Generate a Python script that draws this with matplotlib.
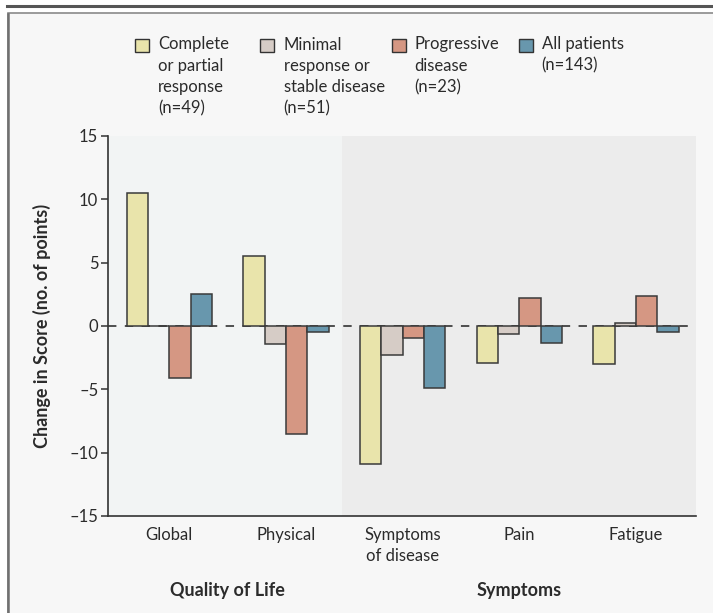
import matplotlib
matplotlib.use('Agg')
import matplotlib.pyplot as plt
from matplotlib.patches import Rectangle
from matplotlib.lines import Line2D
import numpy as np

plt.rcParams['font.family'] = ['Lato', 'DejaVu Sans']

# data
categories = ['Global', 'Physical', 'Symptoms\nof disease', 'Pain', 'Fatigue']
groups = ['Quality of Life', 'Symptoms']
series_names = ['Complete\nor partial\nresponse\n(n=49)',
                'Minimal\nresponse or\nstable disease\n(n=51)',
                'Progressive\ndisease\n(n=23)',
                'All patients\n(n=143)']
complete = [10.5, 5.5, -10.9, -2.9, -3.0]
minimal = [0.0, -1.4, -2.3, -0.6, 0.25]
progressive = [-4.1, -8.5, -0.95, 2.2, 2.4]
all_patients = [2.5, -0.45, -4.9, -1.35, -0.5]
yticks = [-15, -10, -5, 0, 5, 10, 15]
ytick_labels = ['–15', '–10', '–5', '0', '5', '10', '15']

colors = ['#e9e4ab', '#d6ccc6', '#d59783', '#6897ad']
edge = '#3a3a3a'
txt = '#2b2b2b'

W, H = 713, 613
def fx(x):
    return x / W
def fy(y):
    return 1 - y / H

fig = plt.figure(figsize=(W / 100, H / 100), dpi=100)
fig.patch.set_facecolor('white')

# panel frame
fig.patches.append(Rectangle((fx(7.5), -0.05), 1.1, fy(13.5) + 0.05,
                             transform=fig.transFigure, fc='#f7f7f7',
                             ec='#8a8a8a', lw=1.2, zorder=-10))
fig.lines.append(Line2D([fx(7.5), fx(7.5)], [0, fy(13.5)], color='#707070',
                        lw=1.8, transform=fig.transFigure, zorder=-9))
fig.lines.append(Line2D([fx(7), 1], [fy(6), fy(6)], color='#555555',
                        lw=2.2, transform=fig.transFigure, zorder=-9))

ax = fig.add_axes([fx(108), fy(516), (696 - 108) / W, (516 - 136) / H])
ax.set_facecolor('#f2f4f4')
ax.set_xlim(-0.525, 4.515)
ax.set_ylim(-15, 15)
ax.axvspan(1.481, 4.515, color='#ececec', lw=0, zorder=0)

x = np.arange(len(categories))
w = 0.183
for i, vals in enumerate([complete, minimal, progressive, all_patients]):
    ax.bar(x + (i - 1.5) * w, vals, w, color=colors[i], edgecolor=edge,
           lw=1.1, zorder=3)

ax.axhline(0, color='#222222', lw=1.1, dashes=(5.5, 5.5), zorder=2)

ax.set_yticks(yticks, ytick_labels)
ax.set_xticks(x, categories)
ax.tick_params(axis='y', length=5, width=1.1, color='#333333', labelsize=12,
               pad=2, labelcolor=txt)
ax.tick_params(axis='x', length=0, pad=8, labelsize=12, labelcolor=txt)
for lbl in ax.get_xticklabels():
    lbl.set_linespacing(1.35)

for s in ['top', 'right']:
    ax.spines[s].set_visible(False)
for s in ['left', 'bottom']:
    ax.spines[s].set_color('#333333')
    ax.spines[s].set_linewidth(1.2)

ax.set_ylabel('Change in Score (no. of points)', fontsize=13,
              fontweight='bold', color=txt)
ax.yaxis.set_label_coords((42 - 108) / 588, 0.5)
ax.yaxis.label.set_va('center')

for gx, g in zip([0.5, 3], groups):
    ax.text(gx, -0.195, g, transform=ax.get_xaxis_transform(), ha='center',
            va='center', fontsize=13, fontweight='bold', color=txt)

# legend drawn by hand (multi-line labels, top aligned)
handle_x = [135, 259.5, 392, 518.5]
text_x = [158, 283.5, 414.5, 541.5]
for i, name in enumerate(series_names):
    fig.patches.append(Rectangle((fx(handle_x[i]), fy(51.7)), 14 / W, 12.4 / H,
                                 transform=fig.transFigure, fc=colors[i],
                                 ec='#333333', lw=1.0))
    fig.text(fx(text_x[i]), fy(36.5), name, ha='left', va='top',
             fontsize=12, linespacing=1.4, color=txt)

fig.savefig('out.png', dpi=100)
